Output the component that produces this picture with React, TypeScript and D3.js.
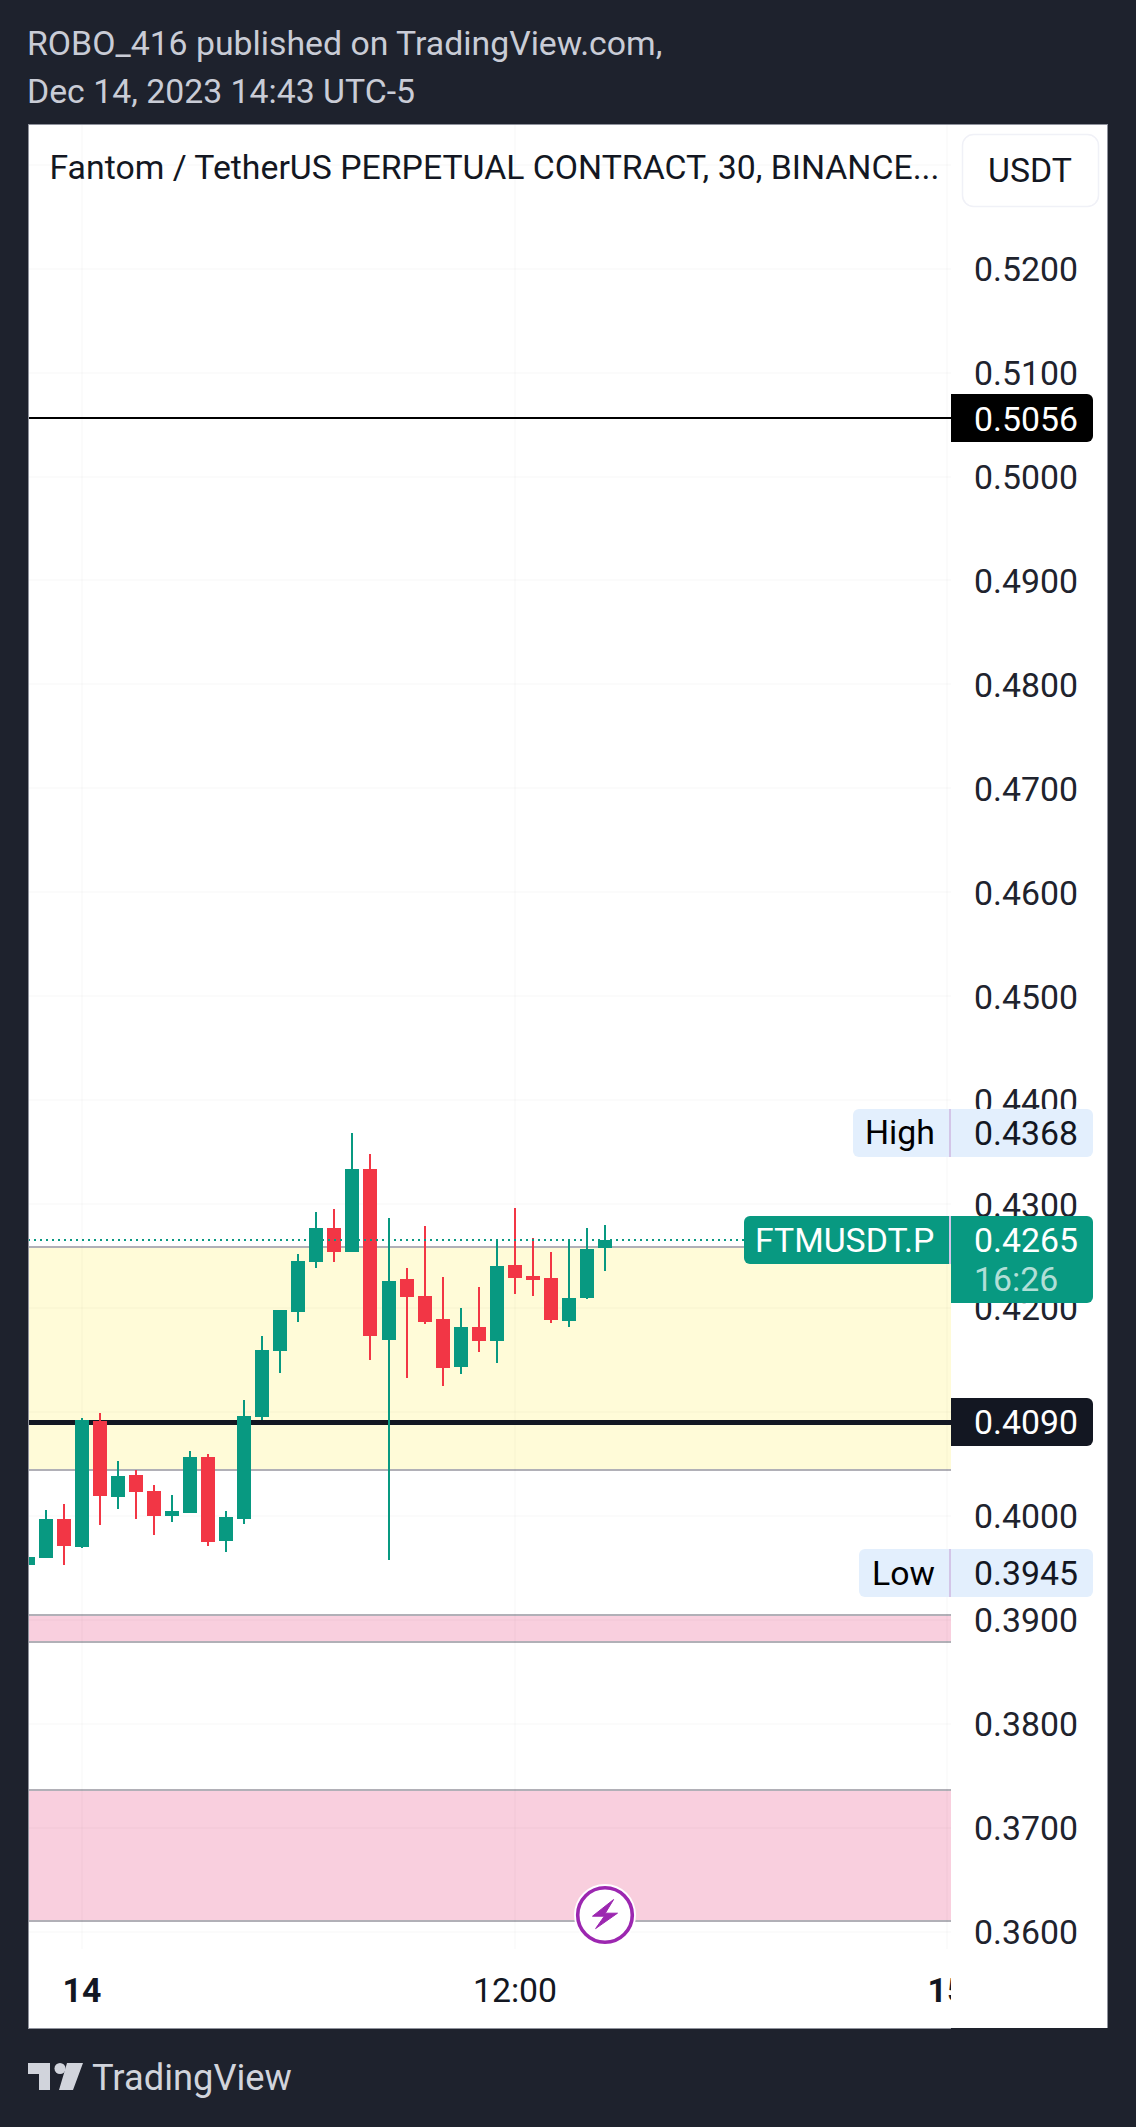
import React from "react";
import * as d3 from "d3";

const opens = [0.39529,0.39596,0.39971,0.39702,0.40913,0.40183,0.40394,0.40240,0.40000,0.40029,0.40567,0.39760,0.39971,0.40952,0.41587,0.41962,0.42442,0.42769,0.42538,0.43337,0.41692,0.42279,0.42115,0.41894,0.41433,0.41817,0.41683,0.42413,0.42308,0.42288,0.41875,0.42096,0.42577];
const highs = [0.39712,0.40058,0.40115,0.40942,0.40990,0.40529,0.40442,0.40298,0.40202,0.40625,0.40596,0.40048,0.41115,0.41731,0.41981,0.42519,0.42923,0.42952,0.43683,0.43481,0.42865,0.42385,0.42788,0.42298,0.42000,0.42202,0.42663,0.42962,0.42673,0.42538,0.42663,0.42769,0.42798];
const lows = [0.39455,0.39596,0.39529,0.39692,0.39913,0.40067,0.39971,0.39817,0.39942,0.40029,0.39712,0.39654,0.39923,0.40923,0.41375,0.41865,0.42385,0.42442,0.42538,0.41500,0.39577,0.41327,0.41846,0.41250,0.41365,0.41577,0.41471,0.42135,0.42115,0.41856,0.41817,0.42087,0.42356];
const closes = [0.39606,0.39971,0.39712,0.40923,0.40192,0.40385,0.40231,0.40000,0.40048,0.40567,0.39750,0.39990,0.40962,0.41596,0.41981,0.42452,0.42769,0.42538,0.43337,0.41731,0.42260,0.42106,0.41865,0.41423,0.41817,0.41683,0.42404,0.42288,0.42269,0.41885,0.42096,0.42567,0.42654];

const priceTicks = [0.52,0.51,0.50,0.49,0.48,0.47,0.46,0.45,0.44,0.43,0.42,0.41,0.40,0.39,0.38,0.37,0.36];
const gridExtra = [0.53];
const timeTickIndex = [3, 27, 51];
const timeTickLabels = ["14", "12:00", "15"];

const yellowZone = [0.42586, 0.40441];
const pinkZones = [[0.39045, 0.38786], [0.37362, 0.36101]];
const resistance = 0.5056;
const support = 0.409;
const lastPrice = 0.4265;
const dayHigh = 0.4368;
const dayLow = 0.3945;

const FONT = "Roboto, sans-serif";
const FS = 33.8;
const BG = "#1e222d";
const GREEN = "#089981";
const RED = "#f23645";
const INK = "#131722";
const AXIS_TXT = "#20232d";
const ZONE_LINE = "#b1b0b7";
const GRID = "rgba(42,46,57,0.018)";

const y = d3.scaleLinear().domain([0.43, 0.36]).range([1204, 1931.5]);
const xs = d3.scaleLinear().domain([0, 32]).range([28.4, 605.36]);
const X = (i: number) => Math.floor(xs(i));
const Y = (v: number) => Math.round(y(v));

const L = 28, R = 1107, TOP = 124, BOT = 2028, AX = 951, PLOT_BOT = 1949;
const TX = 974;

function labelPath(x: number, top: number, w: number, h: number, rl: number, rr: number) {
  const p = d3.path();
  p.moveTo(x + rl, top);
  p.lineTo(x + w - rr, top);
  if (rr) p.arcTo(x + w, top, x + w, top + rr, rr);
  p.lineTo(x + w, top + h - rr);
  if (rr) p.arcTo(x + w, top + h, x + w - rr, top + h, rr);
  p.lineTo(x + rl, top + h);
  if (rl) p.arcTo(x, top + h, x, top + h - rl, rl);
  p.lineTo(x, top + rl);
  if (rl) p.arcTo(x, top, x + rl, top, rl);
  p.closePath();
  return p.toString();
}

export default function App() {
  const fmt = d3.format(".4f");
  return (
    <svg width={1136} height={2127} viewBox="0 0 1136 2127"
      style={{ position: "absolute", left: 0, top: 0, display: "block" }} fontFamily={FONT}>
      <defs>
        <clipPath id="plot"><rect x={L + 1} y={TOP + 1} width={AX - L - 1} height={PLOT_BOT - TOP - 1} /></clipPath>
        <clipPath id="axisx"><rect x={L} y={PLOT_BOT} width={AX - L} height={BOT - PLOT_BOT} /></clipPath>
      </defs>
      <rect width={1136} height={2127} fill={BG} />

      <text x={27} y={55} fontSize={FS} fill="#c9ccd6">ROBO_416 published on TradingView.com,</text>
      <text x={27} y={103} fontSize={FS} fill="#c9ccd6">Dec 14, 2023 14:43 UTC-5</text>

      {/* panel */}
      <rect x={L} y={TOP} width={R - L} height={BOT - TOP} fill="#fff" />
      <rect x={L} y={TOP} width={R - L + 1} height={1} fill="#8f929c" />
      <rect x={L} y={TOP} width={1} height={BOT - TOP} fill="#8f929c" />
      <rect x={R} y={TOP} width={1} height={BOT - TOP} fill="#8f929c" />
      <rect x={L} y={BOT} width={AX - L} height={1} fill="#8f929c" />

      <g clipPath="url(#plot)">
        {/* zones */}
        <rect x={L} width={AX - L} y={Y(yellowZone[0])} height={Y(yellowZone[1]) - Y(yellowZone[0])} fill="#fffbd8" />
        <line x1={L} x2={AX} y1={Y(yellowZone[0])} y2={Y(yellowZone[0])} stroke={ZONE_LINE} strokeWidth={2} />
        <line x1={L} x2={AX} y1={Y(yellowZone[1])} y2={Y(yellowZone[1])} stroke={ZONE_LINE} strokeWidth={2} />
        {pinkZones.map((z, i) => (
          <g key={i}>
            <rect x={L} width={AX - L} y={Y(z[0])} height={Y(z[1]) - Y(z[0])} fill="#f9cfde" />
            <line x1={L} x2={AX} y1={Y(z[0])} y2={Y(z[0])} stroke={ZONE_LINE} strokeWidth={2} />
            <line x1={L} x2={AX} y1={Y(z[1])} y2={Y(z[1])} stroke={ZONE_LINE} strokeWidth={2} />
          </g>
        ))}
        {/* grid */}
        {[...gridExtra, ...priceTicks].map((t) => (
          <rect key={t} x={L} width={AX - L} y={Y(t) - 1} height={2} fill={GRID} />
        ))}
        {timeTickIndex.map((t) => (
          <rect key={t} x={X(t) - 1} width={2} y={TOP} height={PLOT_BOT - TOP} fill={GRID} />
        ))}
        {/* horizontal levels */}
        <rect x={L} width={AX - L} y={Y(resistance) - 1} height={2} fill="#000" />
        <rect x={L} width={AX - L} y={Y(support) - 2} height={5} fill={INK} />
        {/* candles */}
        {opens.map((o, i) => {
          const c = closes[i];
          const col = c >= o ? GREEN : RED;
          const top = Y(Math.max(o, c));
          const bot = Y(Math.min(o, c));
          return (
            <g key={i} fill={col}>
              <rect x={X(i) - 1} width={2} y={Y(highs[i])} height={Y(lows[i]) - Y(highs[i])} />
              <rect x={X(i) - 7} width={14} y={top} height={bot - top} />
            </g>
          );
        })}
        {/* last price dotted */}
        <line x1={L} x2={AX} y1={Y(lastPrice)} y2={Y(lastPrice)} stroke={GREEN} strokeWidth={2} strokeDasharray="2 4" />
      </g>

      {/* title */}
      <text x={49.5} y={179} fontSize={FS} fill={INK}>Fantom / TetherUS PERPETUAL CONTRACT, 30, BINANCE...</text>

      {/* time axis */}
      <g clipPath="url(#axisx)">
        <rect x={L + 1} y={PLOT_BOT} width={AX - L - 1} height={BOT - PLOT_BOT} fill="#fff" />
        {timeTickIndex.map((t, i) => (
          <text key={t} x={X(t)} y={2002} textAnchor="middle" fontSize={FS}
            fontWeight={i === 1 ? 400 : 700} fill={INK}>{timeTickLabels[i]}</text>
        ))}
      </g>

      {/* price axis */}
      {priceTicks.map((t) => (
        <text key={t} x={TX} y={y(t) + 12.5} fontSize={FS} fill={AXIS_TXT}>{fmt(t)}</text>
      ))}

      {/* USDT button */}
      <rect x={962.5} y={134.5} width={136} height={72} rx={11} fill="#fff" stroke="#f0f1f7" strokeWidth={1.5} />
      <text x={1030} y={182} textAnchor="middle" fontSize={FS} fill={INK}>USDT</text>

      {/* resistance label */}
      <path d={labelPath(AX, Y(resistance) - 24, 142, 48, 0, 6)} fill="#000" />
      <text x={TX} y={Y(resistance) + 13} fontSize={FS} fill="#fff">{fmt(resistance)}</text>

      {/* support label */}
      <path d={labelPath(AX, Y(support) - 24, 142, 48, 0, 6)} fill={INK} />
      <text x={TX} y={Y(support) + 12} fontSize={FS} fill="#fff">{fmt(support)}</text>

      {/* high */}
      <path d={labelPath(853, Y(dayHigh) - 24, 97, 48, 6, 0)} fill="#e3effd" />
      <path d={labelPath(AX, Y(dayHigh) - 24, 142, 48, 0, 6)} fill="#e3effd" />
      <rect x={949} y={Y(dayHigh) - 24} width={2} height={48} fill="#d3c5e8" />
      <text x={865} y={Y(dayHigh) + 11} fontSize={FS} fill="#000">High</text>
      <text x={TX} y={Y(dayHigh) + 12} fontSize={FS} fill={INK}>{fmt(dayHigh)}</text>

      {/* low */}
      <path d={labelPath(859, Y(dayLow) - 24, 91, 48, 6, 0)} fill="#e3effd" />
      <path d={labelPath(AX, Y(dayLow) - 24, 142, 48, 0, 6)} fill="#e3effd" />
      <rect x={949} y={Y(dayLow) - 24} width={2} height={48} fill="#d3c5e8" />
      <text x={872} y={Y(dayLow) + 12} fontSize={FS} fill="#000">Low</text>
      <text x={TX} y={Y(dayLow) + 12} fontSize={FS} fill={INK}>{fmt(dayLow)}</text>

      {/* last */}
      <path d={labelPath(744, Y(lastPrice) - 24, 206, 48, 6, 0)} fill={GREEN} />
      <path d={labelPath(AX, Y(lastPrice) - 24, 142, 87, 0, 6)} fill={GREEN} />
      <rect x={949} y={Y(lastPrice) - 24} width={2} height={48} fill="#d3c5e8" />
      <text x={755} y={Y(lastPrice) + 12} fontSize={FS} fill="#fff">FTMUSDT.P</text>
      <text x={TX} y={Y(lastPrice) + 12} fontSize={FS} fill="#fff">{fmt(lastPrice)}</text>
      <text x={TX} y={1291} fontSize={FS} fill="#fff" fillOpacity={0.7}>16:26</text>

      {/* flash icon */}
      <circle cx={605} cy={1915} r={31} fill="#fff" />
      <circle cx={605} cy={1915} r={27.3} fill="#fff" stroke="#9c27b0" strokeWidth={3.6} />
      <path d="M613.6 1899.5 L592.5 1916.2 L604.3 1916.2 L595.6 1928.6 L617.5 1913.2 L605.3 1913.2 Z" fill="#9c27b0" stroke="#9c27b0" strokeWidth={1} strokeLinejoin="round" />

      {/* footer */}
      <path d="M28 2063 H50 V2090 H39 V2074 H28 Z M67 2063 H83 L73 2090 H59 Z" fill="#d1d4dc" />
      <circle cx={60} cy={2068.5} r={5.5} fill="#d1d4dc" />
      <text x={92} y={2090} fontSize={36.3} fill="#d1d4dc">TradingView</text>
    </svg>
  );
}
